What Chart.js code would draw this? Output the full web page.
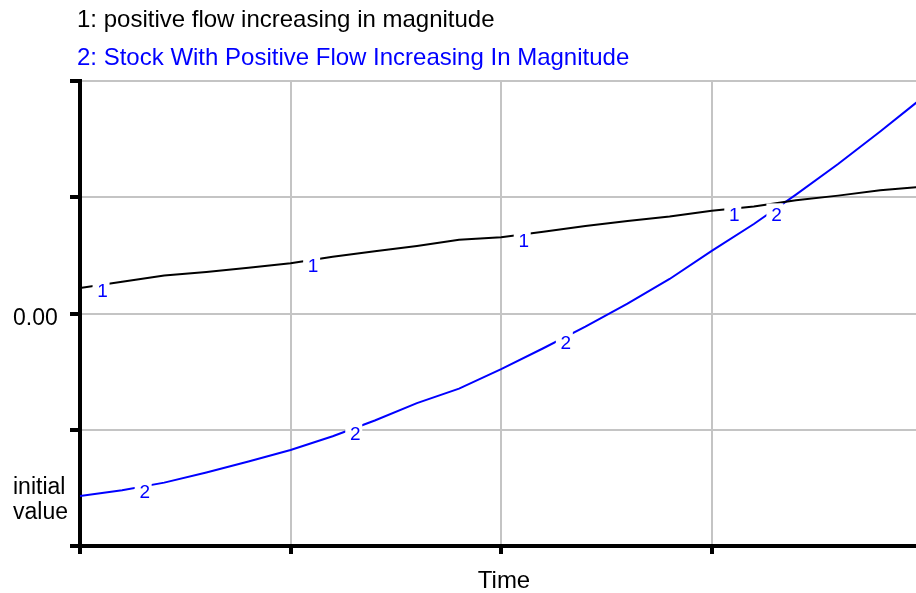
<!DOCTYPE html>
<html>
<head>
<meta charset="utf-8">
<script src="https://cdn.jsdelivr.net/npm/chart.js@4.4.1/dist/chart.umd.min.js"></script>
<style>
html,body{margin:0;padding:0;background:#ffffff;}
#wrap{width:916px;height:593px;position:relative;}
canvas{display:block;}
</style>
</head>
<body>
<div id="wrap"><canvas id="c" width="916" height="593"></canvas></div>
<script>
// ---- data ----
const time  = [0,2,4,6,8,10,12,14,16,18,20,22,24,26,28,30,32,34,36,38,40];
const flow  = [0.219,0.273,0.326,0.358,0.394,0.432,0.489,0.536,0.581,0.634,0.655,0.703,0.753,0.795,0.834,0.884,0.920,0.975,1.014,1.061,1.090];
const stock = [-1.570,-1.521,-1.455,-1.368,-1.273,-1.174,-1.056,-0.920,-0.771,-0.646,-0.479,-0.299,-0.113,0.084,0.297,0.538,0.770,1.022,1.286,1.566,1.855];
const seriesNames = ['1: positive flow increasing in magnitude', '2: Stock With Positive Flow Increasing In Magnitude'];
const seriesMarks = ['1', '2'];
const flowLabelTimes  = [1, 11, 21, 31];
const stockLabelTimes = [3, 13, 23, 33];
const xGridTicks = [0, 10, 20, 30];
const yGridTicks = [-2, -1, 0, 1, 2];
const yTickLabels = [
  { value: 0, lines: ['0.00'] },
  { value: stock[0], lines: ['initial', 'value'] }
];
const xAxisTitle = 'Time';
const xMin = 0, xMax = 39.7, yMin = -2, yMax = 2;

// ---- styles ----
const FONT = '"Liberation Sans", Arial, Helvetica, sans-serif';
const BLUE = '#0000ff';
const GRID = '#c4c4c4';

function interp(arr, t) {
  for (let i = 0; i < time.length - 1; i++) {
    if (t >= time[i] && t <= time[i + 1]) {
      const f = (t - time[i]) / (time[i + 1] - time[i]);
      return arr[i] + f * (arr[i + 1] - arr[i]);
    }
  }
  return arr[arr.length - 1];
}

const overlay = {
  id: 'overlay',
  afterDatasetsDraw(chart) {
    const ctx = chart.ctx, xs = chart.scales.x, ys = chart.scales.y;
    ctx.save();
    ctx.font = '19px ' + FONT;
    ctx.textAlign = 'center';
    ctx.textBaseline = 'alphabetic';
    const drawMarks = (arr, times, mark) => {
      times.forEach(t => {
        const px = xs.getPixelForValue(t);
        const py = ys.getPixelForValue(interp(arr, t));
        ctx.fillStyle = '#ffffff';
        ctx.fillRect(px - 8.5, py - 6, 17, 21);
        ctx.fillStyle = BLUE;
        ctx.fillText(mark, px + 1.5, py + 12);
      });
    };
    drawMarks(flow, flowLabelTimes, seriesMarks[0]);
    drawMarks(stock, stockLabelTimes, seriesMarks[1]);
    ctx.restore();
  },
  afterDraw(chart) {
    const ctx = chart.ctx, xs = chart.scales.x, ys = chart.scales.y;
    ctx.save();
    // legend
    ctx.font = '24px ' + FONT;
    ctx.textAlign = 'left';
    ctx.textBaseline = 'alphabetic';
    ctx.fillStyle = '#000000';
    ctx.fillText(seriesNames[0], 77, 27);
    ctx.fillStyle = BLUE;
    ctx.fillText(seriesNames[1], 77, 65);
    // y tick labels
    ctx.font = '23px ' + FONT;
    ctx.fillStyle = '#000000';
    yTickLabels.forEach(lb => {
      const py = ys.getPixelForValue(lb.value);
      const n = lb.lines.length;
      lb.lines.forEach((s, i) => {
        ctx.fillText(s, 13, py + 11 - (n - 1) * 13.5 + i * 25);
      });
    });
    // x axis title
    ctx.font = '24px ' + FONT;
    ctx.textAlign = 'center';
    ctx.fillText(xAxisTitle, (xs.left + xs.right) / 2 + 6, 588);
    ctx.restore();
  }
};

new Chart(document.getElementById('c'), {
  type: 'line',
  data: {
    labels: time,
    datasets: [
      {
        label: seriesNames[0],
        data: time.map((t, i) => ({ x: t, y: flow[i] })),
        borderColor: '#000000',
        borderWidth: 2,
        pointRadius: 0,
        tension: 0,
        fill: false
      },
      {
        label: seriesNames[1],
        data: time.map((t, i) => ({ x: t, y: stock[i] })),
        borderColor: BLUE,
        borderWidth: 2,
        pointRadius: 0,
        tension: 0,
        fill: false
      }
    ]
  },
  options: {
    responsive: false,
    animation: false,
    devicePixelRatio: 1,
    layout: { padding: { top: 81, left: 0, right: 0, bottom: 0 } },
    plugins: {
      legend: { display: false },
      title: { display: false },
      tooltip: { enabled: false }
    },
    scales: {
      x: {
        type: 'linear',
        min: xMin,
        max: xMax,
        afterBuildTicks: s => { s.ticks = xGridTicks.map(v => ({ value: v })); },
        afterFit: s => { s.height = 47; },
        ticks: { display: false },
        grid: { color: GRID, lineWidth: 2, drawTicks: true, tickLength: 8, tickColor: '#000000', tickWidth: 4 },
        border: { display: true, color: '#000000', width: 4 }
      },
      y: {
        type: 'linear',
        min: yMin,
        max: yMax,
        afterBuildTicks: s => { s.ticks = yGridTicks.map(v => ({ value: v })); },
        afterFit: s => { s.width = 80; },
        ticks: { display: false },
        grid: { color: GRID, lineWidth: 2, drawTicks: true, tickLength: 10, tickColor: '#000000', tickWidth: 4 },
        border: { display: true, color: '#000000', width: 4 }
      }
    }
  },
  plugins: [overlay]
});
</script>
</body>
</html>
